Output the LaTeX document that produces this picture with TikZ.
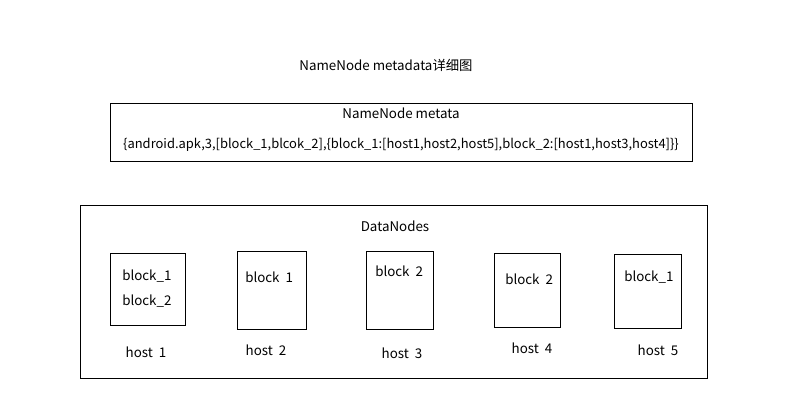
\documentclass[tikz,border=0pt]{standalone}
\usepackage{fontspec}
\setmainfont{Noto Sans CJK SC}
\begin{document}
\begin{tikzpicture}[x=0.025cm,y=-0.025cm]
\tikzset{boite/.style={draw,semithick,inner sep=0pt},
texte/.style={font=\fontsize{9.5}{11}\selectfont,inner sep=0pt}}
\useasboundingbox (0,0) rectangle (803,412);
\node[texte] (titre) at (386,65) {NameNode metadata详细图};

\node[boite,minimum width=582*0.025cm,minimum height=58*0.025cm] (meta) at (401,132) {};
\node[texte] (metanom) at (401,113) {NameNode metata};
\node[texte,font=\fontsize{9.2}{11}\selectfont] (metaval) at (401,145) {\{android.apk,3,[block\_1,blcok\_2],\{block\_1:[host1,host2,host5],block\_2:[host1,host3,host4]\}\}};

\node[boite,minimum width=627*0.025cm,minimum height=173*0.025cm] (dn) at (393.5,291.5) {};
\node[texte] (dnnom) at (395,226) {DataNodes};

\node[boite,minimum width=75*0.025cm,minimum height=72*0.025cm] (h1) at (147.5,289) {};
\node[boite,minimum width=69*0.025cm,minimum height=78*0.025cm] (h2) at (271.5,290) {};
\node[boite,minimum width=67*0.025cm,minimum height=78*0.025cm] (h3) at (399.5,290) {};
\node[boite,minimum width=66*0.025cm,minimum height=74*0.025cm] (h4) at (527,290) {};
\node[boite,minimum width=67*0.025cm,minimum height=74*0.025cm] (h5) at (647.5,291) {};

\node[texte,anchor=west] (b11) at (122,276) {block\_1};
\node[texte,anchor=west] (b12) at (122,301) {block\_2};
\node[texte,anchor=west] (b21) at (245,277) {block\ \ 1};
\node[texte,anchor=west] (b32) at (375,271) {block\ \ 2};
\node[texte,anchor=west] (b42) at (505,279) {block\ \ 2};
\node[texte,anchor=west] (b51) at (624,277) {block\_1};

\node[texte] (n1) at (146,352) {host\ \ 1};
\node[texte] (n2) at (266,350) {host\ \ 2};
\node[texte] (n3) at (402,353) {host\ \ 3};
\node[texte] (n4) at (532,348) {host\ \ 4};
\node[texte] (n5) at (658,350) {host\ \ 5};
\end{tikzpicture}
\end{document}
